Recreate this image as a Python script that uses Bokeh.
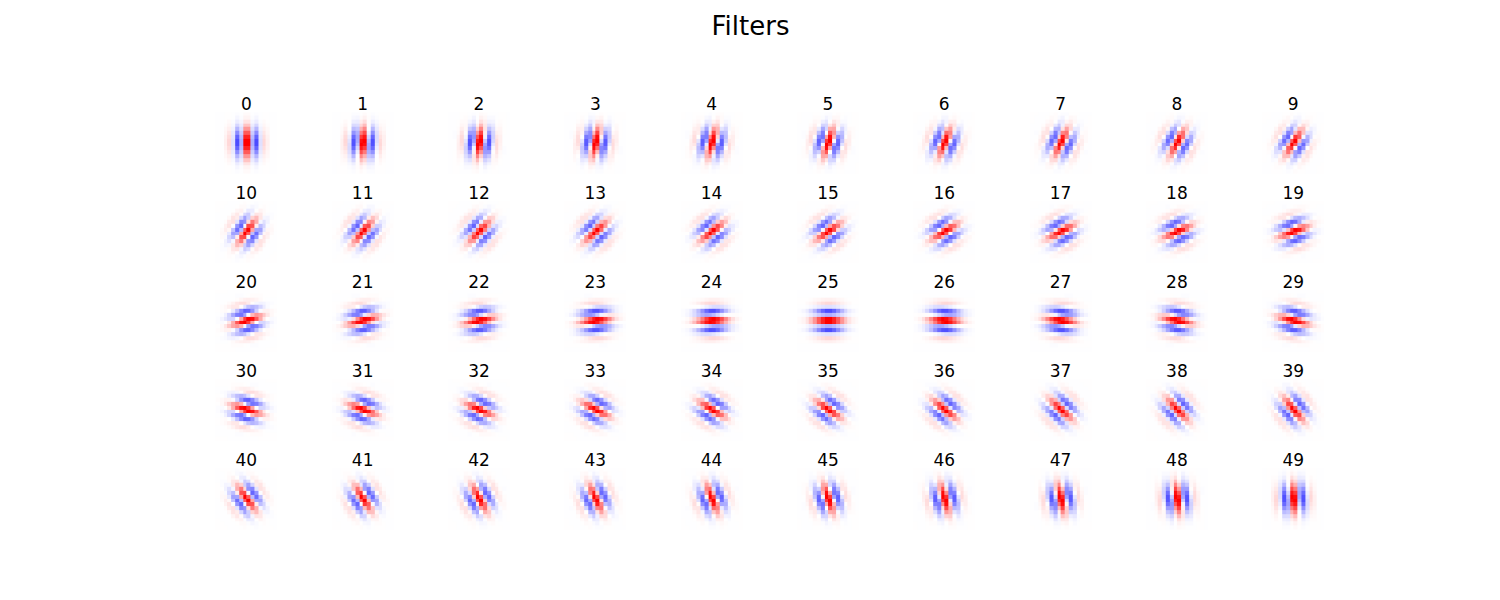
import numpy as np
from bokeh.plotting import figure
from bokeh.models import ColumnDataSource, LinearColorMapper, Range1d
from bokeh.core.properties import value
from bokeh.embed import file_html
from bokeh.resources import INLINE

# filter orientation (degrees) for each of the 50 panels, read row by row
orientations = [0.0, 3.6, 7.2, 10.8, 14.4, 18.0, 21.6, 25.2, 28.8, 32.4,
                36.0, 39.6, 43.2, 46.8, 50.4, 54.0, 57.6, 61.2, 64.8, 68.4,
                72.0, 75.6, 79.2, 82.8, 86.4, 90.0, 93.6, 97.2, 100.8, 104.4,
                108.0, 111.6, 115.2, 118.8, 122.4, 126.0, 129.6, 133.2, 136.8, 140.4,
                144.0, 147.6, 151.2, 154.8, 158.4, 162.0, 165.6, 169.2, 172.8, 176.4]
labels = [str(k) for k in range(len(orientations))]

kernel_size = 16
wavelength = 5.0
sigma_across = 2.3
sigma_along = 2.6

n_cols = 10


def gabor(theta_deg):
    t = np.deg2rad(theta_deg)
    c = np.arange(kernel_size) - (kernel_size - 1) / 2.0
    x, y = np.meshgrid(c, c)  # y grows downwards (image rows)
    xr = x * np.cos(t) + y * np.sin(t)
    yr = -x * np.sin(t) + y * np.cos(t)
    env = np.exp(-(xr ** 2 / (2 * sigma_across ** 2) + yr ** 2 / (2 * sigma_along ** 2)))
    return env * np.cos(2 * np.pi * xr / wavelength)


# matplotlib "bwr" colormap
bwr = []
for i in range(256):
    t = i / 255.0
    if t < 0.5:
        r = g = int(round(255 * 2 * t))
        b = 255
    else:
        r = 255
        g = b = int(round(255 * 2 * (1 - t)))
    bwr.append("#%02x%02x%02x" % (r, g, b))

W, H = 1500, 600
col0, col_step = 245.8, 116.33
row0, row_step = 150.5, 89.0
side = 60.8

# data coordinates are the reference's pixel coordinates (y flipped)
p = figure(width=W - 16, height=H - 16, x_range=Range1d(0, W - 16), y_range=Range1d(8, H - 8),
           output_backend="svg", toolbar_location=None, min_border=0,
           x_axis_location=None, y_axis_location=None)
p.grid.visible = False
p.outline_line_color = None
p.background_fill_color = "white"

mapper = LinearColorMapper(palette=bwr, low=-1, high=1)

imgs, xs, ys, lx, ly = [], [], [], [], []
for k, th in enumerate(orientations):
    kern = gabor(th)
    kern = kern / np.abs(kern).max()
    r, c = divmod(k, n_cols)
    cx = col0 + c * col_step
    cy = row0 + r * row_step
    imgs.append(kern[::-1])
    xs.append(cx - side / 2)
    ys.append(H - (cy + side / 2))
    lx.append(cx)
    ly.append(H - (cy - side / 2 - 8.7))

src = ColumnDataSource(dict(image=imgs, x=xs, y=ys))
p.image(image="image", x="x", y="y", dw=side, dh=side, color_mapper=mapper, source=src)

lab = ColumnDataSource(dict(x=lx, y=ly, text=labels))
p.text(x="x", y="y", text="text", source=lab, text_align="center", text_baseline="alphabetic",
       text_font=value("DejaVu Sans"), text_font_size="17px", text_color="black")

p.text(x=[W / 2], y=[H - 33.3], text=["Filters"], text_align="center", text_baseline="alphabetic",
       text_font=value("DejaVu Sans"), text_font_size="26px", text_color="black")

open("out.html", "w").write(file_html(p, INLINE))
